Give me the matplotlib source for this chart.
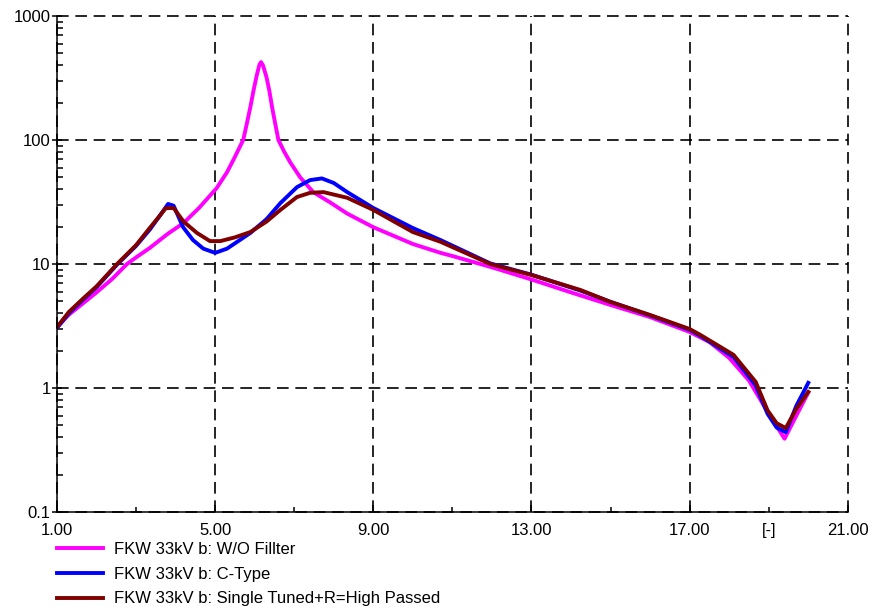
import numpy as np
import matplotlib
matplotlib.use("Agg")
from matplotlib import pyplot as plt
from matplotlib.ticker import FixedLocator, FixedFormatter, NullFormatter

plt.rcParams['font.family'] = ['Liberation Sans', 'DejaVu Sans']
plt.rcParams['font.size'] = 12

# harmonic impedance vs. harmonic order
x_wo = [1.0, 1.3, 1.67, 2.0, 2.4, 2.77, 3.0, 3.35, 3.8, 4.2, 4.6, 5.04, 5.3,
        5.46, 5.6, 5.71, 5.8, 5.89, 5.97, 6.05, 6.12, 6.16, 6.21, 6.3, 6.37,
        6.44, 6.52, 6.6, 6.75, 6.9, 7.15, 7.48, 7.9, 8.34, 9.0, 10.0, 10.7,
        11.0, 12.0, 13.0, 14.0, 15.0, 16.0, 17.0, 17.5, 18.0, 18.5, 19.0,
        19.4, 19.7, 20.0]
z_wo = [3.1, 3.9, 4.85, 5.9, 7.6, 10.0, 11.3, 13.5, 17.5, 21.4, 28.5, 41, 55,
        69, 85, 100, 135, 184, 250, 330, 405, 425, 400, 320, 250,
        184, 135, 100, 80, 66, 50, 38, 31.5, 25.5, 19.8, 14.5, 12.3,
        11.6, 9.4, 7.5, 5.9, 4.67, 3.73, 2.83, 2.35, 1.75, 1.15, 0.62,
        0.39, 0.6, 0.92]

x_ct = [1.0, 1.3, 1.67, 2.0, 2.52, 3.0, 3.35, 3.6, 3.81, 3.95, 4.19, 4.44,
        4.7, 5.0, 5.3, 5.89, 6.3, 6.65, 7.07, 7.4, 7.7, 8.0, 8.34, 8.67, 9.0,
        10.0, 10.7, 11.96, 13.0, 14.24, 15.0, 16.0, 17.0, 17.28, 18.11, 18.67,
        18.97, 19.2, 19.43, 19.7, 20.0]
z_ct = [3.05, 4.0, 5.2, 6.5, 9.9, 14.0, 19.0, 24.5, 30.5, 29.5, 19.8, 15.6,
        13.3, 12.3, 13.3, 17.8, 23, 31, 41.7, 47.5, 49, 45, 38, 32.8, 28.3,
        19.5, 15.6, 10.1, 8.2, 6.1, 4.95, 3.85, 2.95, 2.62, 1.78, 1.05,
        0.62, 0.48, 0.44, 0.72, 1.10]

x_st = [1.0, 1.3, 1.67, 2.0, 2.52, 3.0, 3.35, 3.6, 3.75, 3.95, 4.2, 4.54,
        4.87, 5.13, 5.5, 5.89, 6.3, 6.65, 7.07, 7.4, 7.74, 8.34, 9.0, 10.0,
        10.7, 11.96, 13.0, 14.24, 15.0, 16.0, 17.0, 17.28, 18.11, 18.67,
        18.97, 19.2, 19.43, 19.7, 20.0]
z_st = [3.1, 4.1, 5.3, 6.6, 10.0, 14.2, 19.6, 24.5, 28.2, 28.3, 22, 17.8,
        15.3, 15.3, 16.4, 18.1, 22, 27.3, 34.7, 37.5, 38, 34.2, 27.3, 18.1,
        15.1, 10.0, 8.15, 6.17, 4.94, 3.88, 2.99, 2.67, 1.85, 1.12,
        0.66, 0.52, 0.475, 0.68, 0.93]

labels = ['FKW 33kV b: W/O Fillter',
          'FKW 33kV b: C-Type',
          'FKW 33kV b: Single Tuned+R=High Passed']

x_major = [1, 5, 9, 13, 17, 21]
x_minor = [3, 7, 11, 15, 19]
x_minor_labels = ['', '', '', '', '[-]']
y_major = [0.1, 1, 10, 100, 1000]
y_labels = ['0.1', '1', '10', '100', '1000']

fig = plt.figure(figsize=(8.7, 6.09), dpi=100)
ax = fig.add_axes([0.0655, 0.1593, 0.909, 0.8144])

ax.plot(x_wo, z_wo, color='#ff00ff', lw=2.8, label=labels[0])
ax.plot(x_ct, z_ct, color='#0000ff', lw=2.8, label=labels[1])
ax.plot(x_st, z_st, color='#800000', lw=2.8, label=labels[2])

ax.set_yscale('log')
ax.set_xlim(1, 21)
ax.set_ylim(0.1, 1000)

ax.xaxis.set_major_locator(FixedLocator(x_major))
ax.set_xticklabels(['%.2f' % v for v in x_major])
ax.xaxis.set_minor_locator(FixedLocator(x_minor))
ax.xaxis.set_minor_formatter(FixedFormatter(x_minor_labels))
ax.set_yticks(y_major)
ax.set_yticklabels(y_labels)
ax.yaxis.set_minor_formatter(NullFormatter())

ax.tick_params(axis='x', which='major', direction='in', length=5, width=1.1, pad=8)
ax.tick_params(axis='x', which='minor', direction='in', length=3.5, width=1.1, pad=8)
ax.tick_params(axis='y', which='major', direction='inout', length=7, width=1.1, pad=1)
ax.tick_params(axis='y', which='minor', direction='in', length=4, width=1.1)

ax.grid(True, which='major', color='black', lw=1.2, linestyle=(0, (7, 4)))
for gl in ax.get_xgridlines() + ax.get_ygridlines():
    gl.set_clip_on(False)
for s in ['top', 'right']:
    ax.spines[s].set_visible(False)
for s in ['left', 'bottom']:
    ax.spines[s].set_linewidth(1.1)

fig.legend(loc='upper left', bbox_to_anchor=(0.0655, 0.11), frameon=False,
           borderpad=0, borderaxespad=0, handlelength=2.75, handletextpad=0.7,
           labelspacing=0.58, fontsize=12)

fig.savefig('out.png', dpi=100)
